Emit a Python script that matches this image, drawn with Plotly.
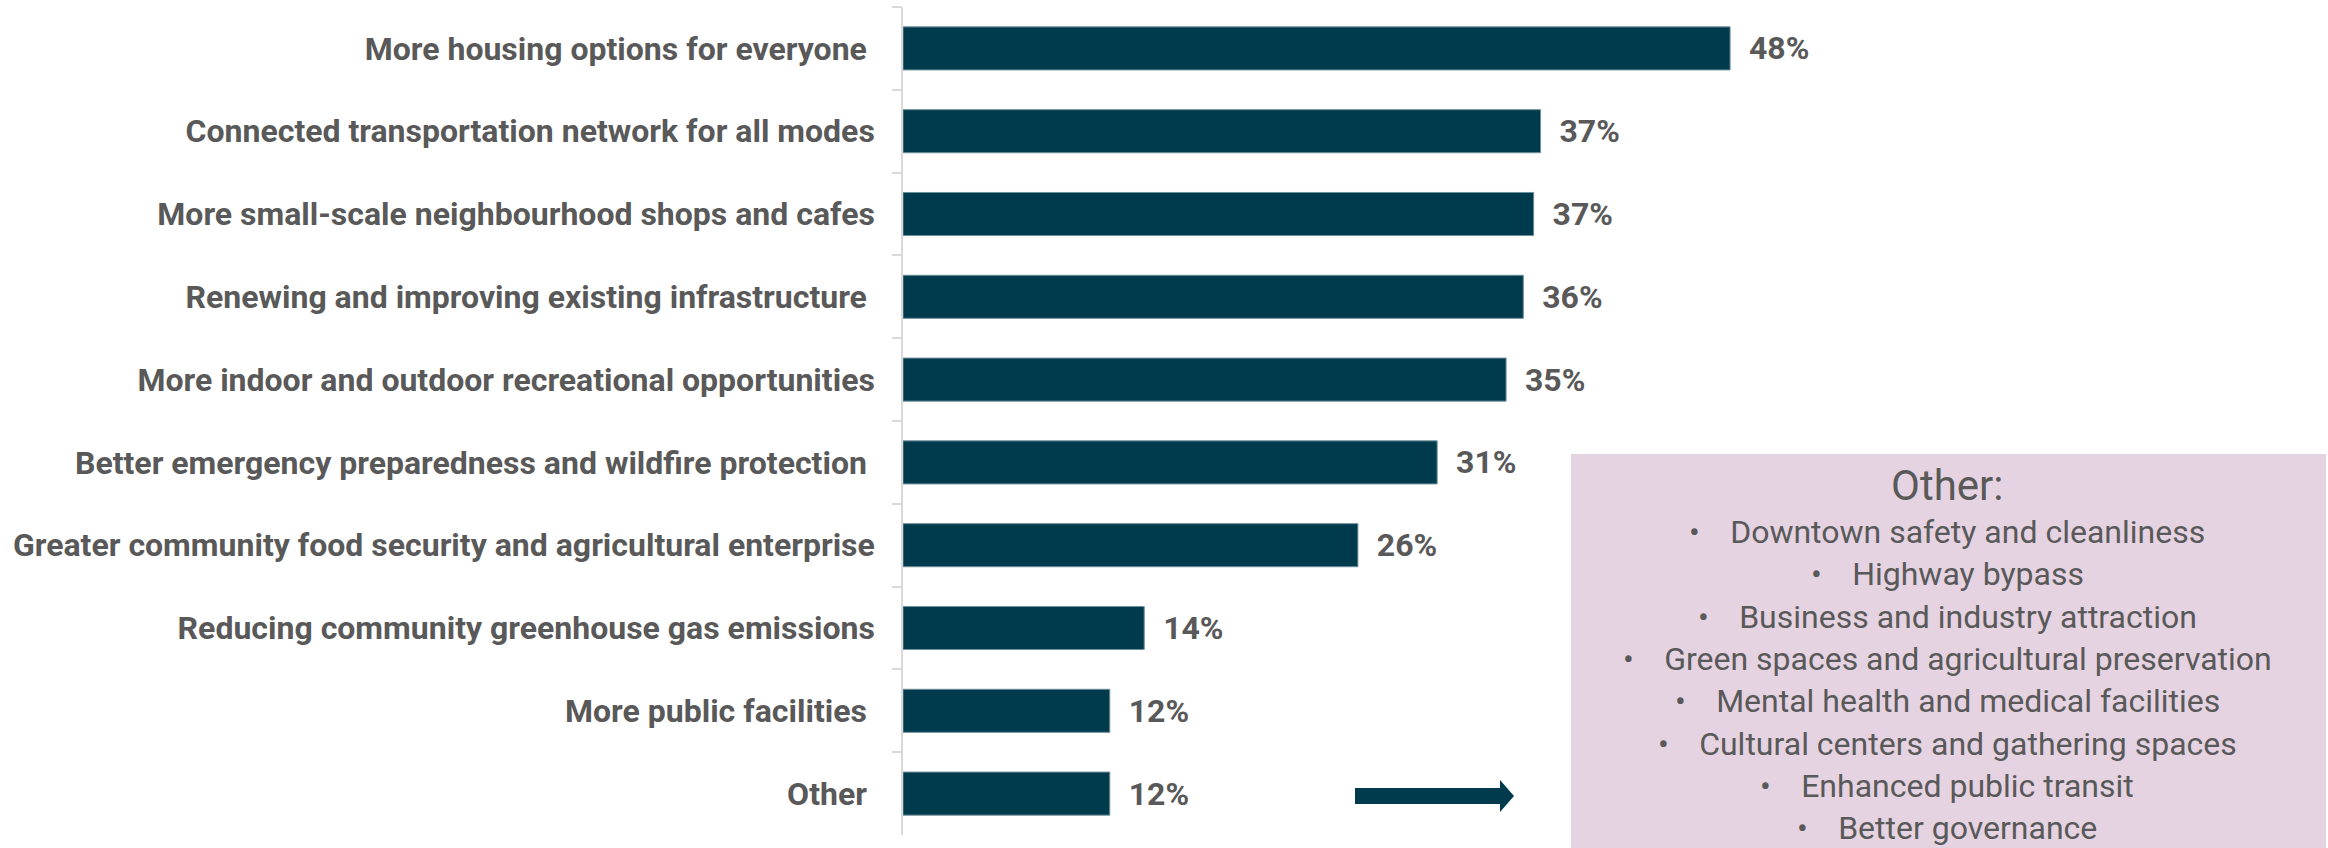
import plotly.graph_objects as go

categories = [
    "More housing options for everyone\u00a0",
    "Connected transportation network for all modes",
    "More small-scale neighbourhood shops and cafes",
    "Renewing and improving existing infrastructure\u00a0",
    "More indoor and outdoor recreational opportunities",
    "Better emergency preparedness and wildfire protection\u00a0",
    "Greater community food security and agricultural enterprise",
    "Reducing community greenhouse gas emissions",
    "More public facilities\u00a0",
    "Other\u00a0",
]
values = [48, 37, 36.6, 36, 35, 31, 26.4, 14, 12, 12]
value_labels = ["48%", "37%", "37%", "36%", "35%", "31%", "26%", "14%", "12%", "12%"]

other_title = "Other:"
other_items = [
    "Downtown safety and cleanliness",
    "Highway bypass",
    "Business and industry attraction",
    "Green spaces and agricultural preservation",
    "Mental health and medical facilities",
    "Cultural centers and gathering spaces",
    "Enhanced public transit",
    "Better governance",
]

W, H = 2328, 848
L, R, T, B = 903, 0, 7, 13
PW = W - L - R
PH = H - T - B

def px(x):
    return (x - L) / PW

def py(y):
    return (H - B - y) / PH

GRAY = "#595959"
BAR = "#003B4D"

fig = go.Figure()
fig.add_trace(go.Bar(
    x=values,
    y=categories,
    orientation="h",
    marker=dict(color=BAR, line=dict(color="#6f8f9c", width=1)),
    text=["\u00a0\u00a0" + t for t in value_labels],
    texttemplate="%{text}",
    textposition="outside",
    textfont=dict(family="Roboto", size=32, color=GRAY, weight="bold"),
    cliponaxis=False,
    hoverinfo="skip",
))

shapes = []
# Other box
shapes.append(dict(type="rect", xref="paper", yref="paper",
                   x0=px(1571), x1=px(2326), y0=py(870), y1=py(454),
                   fillcolor="#E5D3E1", line=dict(width=0), layer="below"))
# Arrow
path = (f"M {px(1355)} {py(788)} L {px(1500)} {py(788)} L {px(1500)} {py(780)} "
        f"L {px(1514)} {py(796)} L {px(1500)} {py(812)} L {px(1500)} {py(804)} "
        f"L {px(1355)} {py(804)} Z")
shapes.append(dict(type="path", xref="paper", yref="paper", path=path,
                   fillcolor=BAR, line=dict(width=0)))

annotations = [dict(xref="paper", yref="paper", x=px(1947), y=py(485),
                    text=other_title, showarrow=False, xanchor="center", yanchor="middle",
                    font=dict(family="Roboto", size=42, color=GRAY))]
for i, item in enumerate(other_items):
    annotations.append(dict(xref="paper", yref="paper", x=px(1947), y=py(532 + i * 42.3),
                            text="\u2022\u00a0\u00a0\u00a0\u2009" + item, showarrow=False,
                            xanchor="center", yanchor="middle",
                            font=dict(family="Roboto", size=32, color=GRAY)))

fig.update_layout(
    width=W, height=H,
    margin=dict(l=L, r=R, t=T, b=B, autoexpand=False),
    paper_bgcolor="white", plot_bgcolor="white",
    bargap=0.48,
    showlegend=False,
    shapes=shapes,
    annotations=annotations,
    xaxis=dict(visible=False, range=[0, 82.7]),
    yaxis=dict(
        autorange="reversed",
        showline=True, linecolor="#d9d9d9", linewidth=1.5,
        ticks="outside", ticklen=9, tickcolor="#d9d9d9", tickwidth=1.5,
        tickson="boundaries",
        showgrid=False,
        tickfont=dict(family="Roboto", size=32, color=GRAY, weight="bold"),
        ticklabelstandoff=20,
    ),
)

fig.write_html("out.html", config={"displayModeBar": False},
               post_script="document.body.style.margin='0px';")
